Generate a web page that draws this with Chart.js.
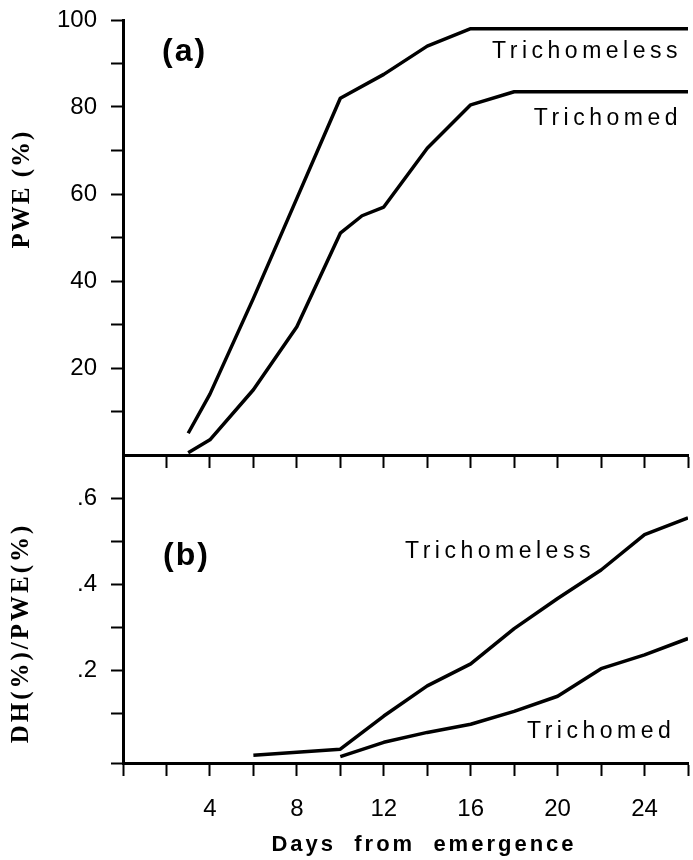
<!DOCTYPE html>
<html><head><meta charset="utf-8">
<script src="https://cdn.jsdelivr.net/npm/chart.js@4"></script>
<style>
html,body{margin:0;padding:0;background:#fff;}
#wrap{position:relative;width:693px;height:860px;overflow:hidden;}
#ca{position:absolute;left:0;top:0;}
#cb{position:absolute;left:0;top:440px;}
</style></head><body>
<div id="wrap">
<canvas id="ca" width="693" height="470"></canvas>
<canvas id="cb" width="693" height="420"></canvas>
</div>
<script>
// ---- data ----
const seriesNames = ['Trichomeless', 'Trichomed'];
// panel (a): PWE (%)
const pweDaysTrichomeless = [3, 4, 6, 8, 10, 12, 14, 16, 26];
const pweTrichomeless     = [5, 14, 36, 59, 82, 87.5, 94, 98, 98];
const pweDaysTrichomed    = [3, 4, 6, 8, 10, 11, 12, 14, 16, 18, 26];
const pweTrichomed        = [0.5, 3.5, 15, 29.5, 51, 55, 57, 70.5, 80.5, 83.5, 83.5];
// panel (b): DH(%)/PWE(%)
const dhDaysTrichomeless  = [6, 10, 12, 14, 16, 18, 20, 22, 24, 26];
const dhTrichomeless      = [0.003, 0.017, 0.094, 0.164, 0.215, 0.297, 0.367, 0.433, 0.515, 0.554];
const dhDaysTrichomed     = [10, 12, 14, 16, 18, 20, 22, 24, 26];
const dhTrichomed         = [0, 0.033, 0.056, 0.075, 0.105, 0.14, 0.204, 0.236, 0.274];
// tick labels
const xTickLabels  = {4:'4', 8:'8', 12:'12', 16:'16', 20:'20', 24:'24'};
const yTickLabelsA = {20:'20', 40:'40', 60:'60', 80:'80', 100:'100'};
const yTickLabelsB = {2:'.2', 4:'.4', 6:'.6'};

const pts = (xs, ys) => xs.map((x, i) => ({x: x, y: ys[i]}));
const SANS = "'Liberation Sans', Arial, sans-serif";
const SERIF = "'Liberation Serif', 'Times New Roman', serif";

function textPlugin(items) {
  return {
    id: 'texts',
    afterDraw(chart) {
      const ctx = chart.ctx;
      items.forEach(t => {
        ctx.save();
        ctx.font = t.font;
        ctx.letterSpacing = t.ls || '0px';
        ctx.fillStyle = '#000';
        ctx.textAlign = t.align || 'left';
        ctx.textBaseline = t.baseline || 'alphabetic';
        ctx.translate(t.x, t.y);
        if (t.rot) ctx.rotate(t.rot);
        ctx.fillText(t.text, 0, 0);
        ctx.restore();
      });
    }
  };
}

const lineStyle = {borderColor: '#000', borderWidth: 3.5, pointRadius: 0, tension: 0, borderJoinStyle: 'round', fill: false};

function xScale(showLabels, height) {
  return {
    type: 'linear', min: 0, max: 26,
    ticks: {
      stepSize: 2, display: showLabels, autoSkip: false, maxRotation: 0, minRotation: 0,
      color: '#000', font: {family: SANS, size: 24}, padding: 19,
      callback: v => xTickLabels[v] || ''
    },
    grid: {drawOnChartArea: false, drawTicks: true, tickLength: 13, tickColor: '#000', tickWidth: 2},
    border: {display: true, color: '#000', width: 3},
    afterFit: s => { s.height = height; s.paddingLeft = 0; s.paddingRight = 0; }
  };
}

function yFit(s) { s.width = 123; s.paddingTop = 0; s.paddingBottom = 0; }

// ---- panel (a) ----
new Chart(document.getElementById('ca'), {
  type: 'line',
  data: {datasets: [
    Object.assign({label: seriesNames[0], data: pts(pweDaysTrichomeless, pweTrichomeless)}, lineStyle),
    Object.assign({label: seriesNames[1], data: pts(pweDaysTrichomed, pweTrichomed)}, lineStyle)
  ]},
  options: {
    responsive: false, animation: false, devicePixelRatio: 1,
    layout: {padding: {left: 0, top: 20, right: 5, bottom: 2}},
    plugins: {legend: {display: false}, tooltip: {enabled: false}},
    scales: {
      x: xScale(false, 13),
      y: {
        min: 0, max: 100,
        ticks: {stepSize: 10, autoSkip: false, color: '#000', font: {family: SANS, size: 24}, padding: 14,
                callback: v => yTickLabelsA[v] || ''},
        grid: {drawOnChartArea: false, tickLength: 12, tickWidth: 2,
               tickColor: c => (c.tick && c.tick.value === 0) ? 'rgba(0,0,0,0)' : '#000'},
        border: {display: true, color: '#000', width: 3},
        afterFit: yFit
      }
    }
  },
  plugins: [textPlugin([
    {text: '(a)', x: 162, y: 61, font: 'bold 32px ' + SANS, ls: '2px'},
    {text: 'Trichomeless', x: 682, y: 58, align: 'right', font: '23px ' + SANS, ls: '4.5px'},
    {text: 'Trichomed', x: 682, y: 125, align: 'right', font: '23px ' + SANS, ls: '4.5px'},
    {text: 'PWE (%)', x: 23, y: 189, align: 'center', baseline: 'middle', rot: -Math.PI / 2, font: 'bold 25px ' + SERIF, ls: '2px'}
  ])]
});

// ---- panel (b) ----
new Chart(document.getElementById('cb'), {
  type: 'line',
  data: {datasets: [
    Object.assign({label: seriesNames[0], data: pts(dhDaysTrichomeless, dhTrichomeless)}, lineStyle),
    Object.assign({label: seriesNames[1], data: pts(dhDaysTrichomed, dhTrichomed)}, lineStyle)
  ]},
  options: {
    responsive: false, animation: false, devicePixelRatio: 1,
    layout: {padding: {left: 0, top: 15, right: 5, bottom: 0}},
    plugins: {legend: {display: false}, tooltip: {enabled: false}},
    scales: {
      x: xScale(true, 97),
      y: {
        min: -0.015, max: 0.7,
        ticks: {stepSize: 0.1, autoSkip: false, color: '#000', font: {family: SANS, size: 24}, padding: 14,
                callback: v => {
                  const k = Math.round(v * 10);
                  return (Math.abs(v * 10 - k) < 1e-6 && yTickLabelsB[k]) ? yTickLabelsB[k] : '';
                }},
        grid: {drawOnChartArea: false, tickLength: 12, tickWidth: 2,
               tickColor: c => (c.tick && Math.abs(c.tick.value - 0.7) < 1e-6) ? 'rgba(0,0,0,0)' : '#000'},
        border: {display: true, color: '#000', width: 3},
        afterFit: yFit
      }
    }
  },
  plugins: [textPlugin([
    {text: '(b)', x: 163, y: 125, font: 'bold 32px ' + SANS, ls: '2px'},
    {text: 'Trichomeless', x: 405, y: 118, font: '23px ' + SANS, ls: '4.5px'},
    {text: 'Trichomed', x: 527, y: 298, font: '23px ' + SANS, ls: '4.5px'},
    {text: 'DH(%)/PWE(%)', x: 22, y: 193, align: 'center', baseline: 'middle', rot: -Math.PI / 2, font: 'bold 25px ' + SERIF, ls: '3px'},
    {text: 'Days  from  emergence', x: 424, y: 405, align: 'center', baseline: 'middle', font: 'bold 22px ' + SANS, ls: '3px'}
  ])]
});
</script>
</body></html>
